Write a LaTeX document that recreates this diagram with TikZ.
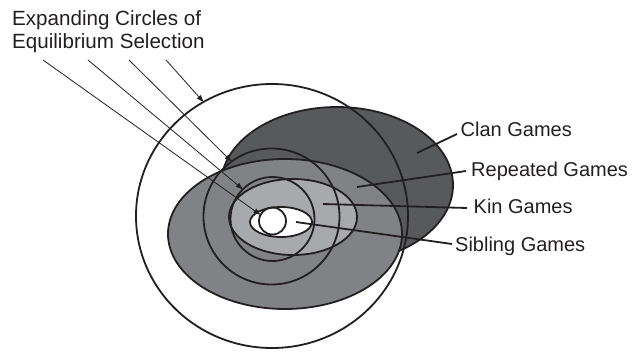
\documentclass[tikz,border=0pt]{standalone}
\usepackage{fontspec}
\setmainfont{Liberation Sans}
\usetikzlibrary{shapes.geometric,arrows.meta}
\definecolor{ink}{HTML}{231F20}
\definecolor{clanfill}{HTML}{58595B}
\definecolor{repfill}{HTML}{808285}
\definecolor{kinfill}{HTML}{A7A9AC}
\begin{document}
\begin{tikzpicture}[x=1pt,y=-1pt,
  blob/.style={ellipse, draw=ink, line width=1.8pt, inner sep=0pt, outer sep=0pt},
  ring/.style={ellipse, draw=ink, line width=1.8pt, inner sep=0pt, outer sep=0pt},
  leader/.style={draw=ink, line width=1.8pt},
  pointer/.style={draw=ink, line width=0.8pt, -{Triangle[length=7pt,width=5pt]}},
  lbl/.style={inner sep=0pt, font=\fontsize{20}{23.5}\selectfont, text=ink, anchor=base west}]
\useasboundingbox (0,0) rectangle (642,351);
% filled regions
\node[blob, fill=clanfill, minimum width=232pt, minimum height=156pt] (clan) at (337,185) {};
\node[blob, fill=repfill, minimum width=234pt, minimum height=150pt] (rep) at (285,234) {};
\node[blob, fill=kinfill, minimum width=128pt, minimum height=76pt] (kin) at (293,217) {};
\node[blob, fill=white, minimum width=62pt, minimum height=30pt] (sib) at (281,222) {};
% expanding circles
\node[ring, minimum width=272pt, minimum height=264pt] (c4) at (272,216) {};
\node[ring, minimum width=136pt, minimum height=136pt] (c3) at (271.5,216.5) {};
\node[ring, minimum width=84pt, minimum height=84pt] (c2) at (272.5,219) {};
\node[ring, minimum width=27pt, minimum height=27pt] (c1) at (272.5,221) {};
% labels
\node[lbl, align=left, font=\fontsize{20.6}{23.5}\selectfont] (title) at (12,48.5) {Expanding Circles of\\Equilibrium Selection};
\node[lbl] (clanL) at (460.5,136.5) {Clan Games};
\node[lbl] (repL) at (471,176) {Repeated Games};
\node[lbl] (kinL) at (473.5,213) {Kin Games};
\node[lbl] (sibL) at (455,251.7) {Sibling Games};
% leader lines
\coordinate (clanA) at (457,134); \coordinate (clanB) at (417,153);
\coordinate (repA) at (466,171);  \coordinate (repB) at (357,187);
\coordinate (kinA) at (467,208);  \coordinate (kinB) at (323,204);
\coordinate (sibA) at (452,244);  \coordinate (sibB) at (296,222);
\draw[leader] (clanA) -- (clanB);
\draw[leader] (repA) -- (repB);
\draw[leader] (kinA) -- (kinB);
\draw[leader] (sibA) -- (sibB);
% pointers
\coordinate (p1) at (43,60);
\coordinate (p2) at (88,60);
\coordinate (p3) at (129,60);
\coordinate (p4) at (166,60);
\draw[pointer] (p4) -- (c4.121);
\draw[pointer] (p3) -- (c3.126);
\draw[pointer] (p2) -- (c2.135);
\draw[pointer] (p1) -- (c1.153);
\end{tikzpicture}
\end{document}
